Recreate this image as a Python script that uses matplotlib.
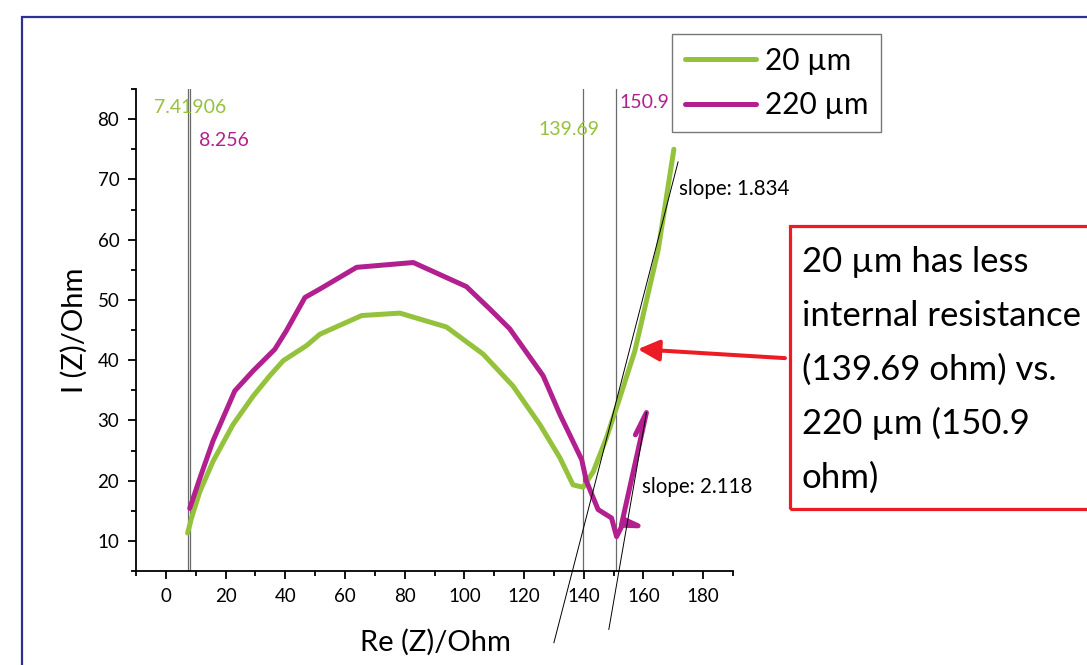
import matplotlib
matplotlib.use("Agg")
import matplotlib.pyplot as plt
from matplotlib.patches import Rectangle, FancyArrowPatch
from matplotlib.ticker import MultipleLocator

plt.rcParams['font.family'] = ['Lato', 'DejaVu Sans']

# ---------------- data ----------------
re_20 = [7.3, 8.6, 11.4, 15.8, 22.5, 29.2, 34.8, 39.3, 47.1, 51.6, 65.6, 78.4,
         94.0, 106.3, 116.3, 125.3, 132.0, 136.4, 139.8, 143.2, 147.6, 152.1,
         157.1, 164.9, 170.2]
im_20 = [11.3, 13.8, 18.2, 23.2, 29.3, 34.0, 37.4, 39.9, 42.4, 44.3, 47.4, 47.8,
         45.5, 41.0, 35.7, 29.3, 23.8, 19.3, 18.9, 21.5, 27.1, 33.8,
         41.5, 58.2, 75.0]

re_220 = [8.0, 11.4, 15.8, 23.1, 29.2, 36.5, 40.4, 46.6, 51.6, 63.9, 82.9, 100.7,
          108.5, 115.2, 126.4, 132.0, 139.3, 140.9, 144.8, 149.3, 151.0, 153.8,
          158.2, 152.6, 161.0, 157.3]
im_220 = [15.4, 20.4, 26.6, 34.9, 38.2, 41.8, 44.9, 50.4, 51.8, 55.4, 56.2, 52.2,
          48.5, 45.2, 37.4, 31.0, 23.5, 19.9, 15.2, 13.8, 10.7, 13.5,
          12.5, 12.6, 31.3, 27.6]

series_labels = ["20 µm", "220 µm"]

# intercept markers (vertical lines) and their labels
vline_x = [7.41906, 8.256, 139.69, 150.9]
vline_labels = ["7.41906", "8.256", "139.69", "150.9"]

# tangent line end points
tan1_x = [130.0, 171.6]
tan1_y = [-6.9, 72.9]
tan2_x = [148.4, 161.0]
tan2_y = [-4.7, 31.3]
slope_labels = ["slope: 1.834", "slope: 2.118"]

note_lines = ["20 µm has less", "internal resistance", "(139.69 ohm) vs.",
              "220 µm (150.9", "ohm)"]

GREEN = "#94C23C"
MAGENTA = "#B21F8E"
RED = "#ED1C24"
NAVY = "#2E3192"

W, H = 1087, 665
fig = plt.figure(figsize=(W / 100, H / 100), dpi=100)
ax = fig.add_axes([136 / W, 1 - 571 / H, (733 - 136) / W, (571 - 89) / H])

ax.plot(re_20, im_20, color=GREEN, lw=3.6, solid_joinstyle='round',
        solid_capstyle='round', label=series_labels[0], zorder=3)
ax.plot(re_220, im_220, color=MAGENTA, lw=3.6, solid_joinstyle='round',
        solid_capstyle='round', label=series_labels[1], zorder=3)

for xv in vline_x:
    ax.axvline(xv, color="#6a6a6a", lw=0.9, zorder=2)

ax.plot(tan1_x, tan1_y, color="black", lw=0.7, clip_on=False, zorder=4)
ax.plot(tan2_x, tan2_y, color="black", lw=0.7, clip_on=False, zorder=4)

# value labels
lab_cols = [GREEN, MAGENTA, GREEN, MAGENTA]
lab_pos = [(-4.0, 82.0), (11.0, 76.4), (124.7, 78.2), (151.9, 82.7)]
for t, c, (px, py) in zip(vline_labels, lab_cols, lab_pos):
    ax.text(px, py, t, color=c, fontsize=14, ha='left', va='center')

ax.text(172.0, 68.4, slope_labels[0], fontsize=14.8, ha='left', va='center',
        color="black")
ax.text(159.4, 18.9, slope_labels[1], fontsize=14.8, ha='left', va='center',
        color="black")

ax.set_xlim(-10, 190)
ax.set_ylim(5, 85)
ax.xaxis.set_minor_locator(MultipleLocator(10))
ax.yaxis.set_minor_locator(MultipleLocator(5))
ax.set_yticks([10, 20, 30, 40, 50, 60, 70, 80])
ax.set_xticks([0, 20, 40, 60, 80, 100, 120, 140, 160, 180])

for s in ["top", "right"]:
    ax.spines[s].set_visible(False)
for s in ["left", "bottom"]:
    ax.spines[s].set_linewidth(1.3)
ax.tick_params(which='major', direction='out', length=6, width=1.3,
               labelsize=13.5, pad=6)
ax.tick_params(which='minor', direction='out', length=3.5, width=1.3)

ax.set_xlabel("Re (Z)/Ohm", fontsize=21)
ax.set_ylabel("I (Z)/Ohm", fontsize=21)
ax.xaxis.set_label_coords((435 - 136) / (733 - 136), -(629 - 571) / (571 - 89))
ax.yaxis.set_label_coords(-(136 - 88) / (733 - 136), (571 - 330) / (571 - 89))

leg = fig.legend(loc='upper left', bbox_to_anchor=(672 / W, 1 - 34 / H),
                 fontsize=21.5, frameon=True, fancybox=False, borderaxespad=0,
                 handlelength=2.4, handletextpad=0.28, labelspacing=0.55,
                 borderpad=0.42)
leg.get_frame().set_edgecolor("#555555")
leg.get_frame().set_linewidth(1.0)
for ln in leg.get_lines():
    ln.set_linewidth(3.6)

# red arrow
arrow = FancyArrowPatch((787.7 / W, 1 - 358.3 / H), (635 / W, 1 - 349 / H),
                        transform=fig.transFigure, arrowstyle="-|>,head_length=0.65,head_width=0.32",
                        mutation_scale=20, color=RED, lw=2.9, zorder=5)
fig.patches.append(arrow)

# red note box
fig.patches.append(Rectangle((790 / W, 1 - 509 / H), 1.0, (509 - 226) / H,
                             transform=fig.transFigure, fill=False,
                             edgecolor=RED, lw=2.3))
for i, line in enumerate(note_lines):
    fig.text(801.7 / W, 1 - (271.7 + 54 * i) / H, line, fontsize=25,
             ha='left', va='baseline', color="black")

# navy frame
fig.patches.append(Rectangle((22 / W, -0.5), 2.0, 0.5 + 1 - 17 / H,
                             transform=fig.transFigure, fill=False,
                             edgecolor=NAVY, lw=1.6))

fig.savefig("out.png", dpi=100)
